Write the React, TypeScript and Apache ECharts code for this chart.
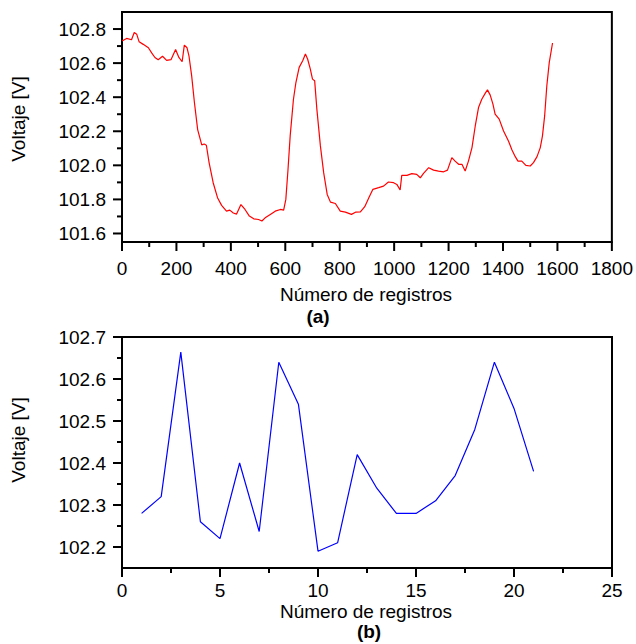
import React, { useEffect, useRef } from "react";
import * as echarts from "echarts";

// ---- Panel (a) data ----
const topX = [0, 17, 35, 45, 54, 63, 78, 97, 109, 121, 133, 149, 164, 180, 197, 209, 221, 229, 239, 246, 256, 266, 278, 293, 302, 310, 320, 335, 351, 366, 384, 396, 409, 421, 437, 452, 468, 484, 502, 514, 526, 545, 563, 582, 594, 602, 610, 618, 630, 639, 651, 664, 674, 682, 692, 700, 708, 716, 729, 741, 754, 766, 784, 802, 821, 843, 858, 876, 892, 907, 922, 943, 961, 979, 998, 1010, 1022, 1028, 1047, 1065, 1083, 1096, 1108, 1127, 1145, 1163, 1182, 1196, 1212, 1224, 1237, 1249, 1261, 1273, 1286, 1298, 1310, 1322, 1335, 1343, 1353, 1363, 1371, 1386, 1402, 1420, 1433, 1445, 1455, 1469, 1484, 1500, 1512, 1525, 1537, 1545, 1553, 1561, 1570, 1582];
const topY = [102.73, 102.745, 102.737, 102.78, 102.77, 102.725, 102.71, 102.69, 102.66, 102.633, 102.62, 102.64, 102.616, 102.62, 102.68, 102.633, 102.608, 102.706, 102.69, 102.643, 102.525, 102.37, 102.21, 102.12, 102.125, 102.118, 102.016, 101.898, 101.81, 101.765, 101.731, 101.737, 101.72, 101.714, 101.77, 101.741, 101.702, 101.686, 101.682, 101.673, 101.692, 101.712, 101.731, 101.741, 101.737, 101.8, 101.976, 102.173, 102.388, 102.486, 102.575, 102.614, 102.653, 102.624, 102.565, 102.506, 102.496, 102.33, 102.114, 101.957, 101.829, 101.784, 101.776, 101.731, 101.725, 101.712, 101.725, 101.727, 101.757, 101.81, 101.859, 101.869, 101.878, 101.902, 101.898, 101.888, 101.855, 101.941, 101.941, 101.951, 101.947, 101.927, 101.953, 101.986, 101.972, 101.966, 101.962, 101.972, 102.045, 102.025, 102.006, 102.006, 101.967, 102.025, 102.104, 102.231, 102.339, 102.388, 102.424, 102.443, 102.412, 102.359, 102.3, 102.271, 102.202, 102.143, 102.09, 102.051, 102.025, 102.025, 102.0, 101.996, 102.016, 102.051, 102.104, 102.173, 102.29, 102.467, 102.604, 102.718];
const topXMajor = [0, 200, 400, 600, 800, 1000, 1200, 1400, 1600, 1800];
const topXMinor = [100, 300, 500, 700, 900, 1100, 1300, 1500, 1700];
const topYMajor = [101.6, 101.8, 102.0, 102.2, 102.4, 102.6, 102.8];
const topYMinor = [101.7, 101.9, 102.1, 102.3, 102.5, 102.7];

// ---- Panel (b) data ----
const bottomX = [1, 2, 3, 4, 5, 6, 7, 8, 9, 10, 11, 12, 13, 14, 15, 16, 17, 18, 19, 20, 21];
const bottomY = [102.28, 102.32, 102.664, 102.26, 102.22, 102.4, 102.237, 102.64, 102.54, 102.19, 102.21, 102.42, 102.34, 102.28, 102.28, 102.31, 102.37, 102.48, 102.64, 102.53, 102.38];
const bottomXMajor = [0, 5, 10, 15, 20, 25];
const bottomXMinor = [2.5, 7.5, 12.5, 17.5, 22.5];
const bottomYMajor = [102.2, 102.3, 102.4, 102.5, 102.6, 102.7];
const bottomYMinor = [102.25, 102.35, 102.45, 102.55, 102.65];

const xName = "Número de registros";
const yName = "Voltaje [V]";

const FONT = "'Liberation Sans', Arial, sans-serif";
const BLACK = "#000";
const MAJOR_LEN = 9;
const MINOR_LEN = 5;
const TICK_W = 2;
const AXIS_W = 2;

function xAxisCfg(grid: number, min: number, max: number, labels: number[], margin: number) {
  return {
    gridIndex: grid,
    type: "value",
    position: "bottom",
    min,
    max,
    axisLine: { show: true, onZero: false, lineStyle: { color: BLACK, width: AXIS_W } },
    axisTick: { show: false },
    axisLabel: { color: BLACK, fontSize: 19, fontFamily: FONT, margin, customValues: labels, formatter: (v: number) => String(v) },
    splitLine: { show: false },
  };
}

function yAxisCfg(grid: number, min: number, max: number, labels: number[]) {
  return {
    gridIndex: grid,
    type: "value",
    position: "left",
    min,
    max,
    axisLine: { show: true, onZero: false, lineStyle: { color: BLACK, width: AXIS_W } },
    axisTick: { show: false },
    axisLabel: { color: BLACK, fontSize: 19, fontFamily: FONT, margin: 16, customValues: labels, formatter: (v: number) => v.toFixed(1) },
    splitLine: { show: false },
  };
}

// tick marks drawn through the axes' own scales (api.coord)
function xTickSeries(axisIdx: number, yMin: number, vals: number[], len: number) {
  return {
    type: "custom",
    coordinateSystem: "cartesian2d",
    xAxisIndex: axisIdx,
    yAxisIndex: axisIdx,
    clip: false,
    silent: true,
    z: 10,
    encode: { x: 0, y: 1 },
    data: vals.map((v) => [v, yMin]),
    renderItem: (_p: any, api: any) => {
      const pt = api.coord([api.value(0), api.value(1)]);
      return {
        type: "line",
        shape: { x1: pt[0], y1: pt[1], x2: pt[0], y2: pt[1] + len },
        style: { stroke: BLACK, lineWidth: TICK_W, fill: "none" },
      };
    },
  };
}

function yTickSeries(axisIdx: number, xMin: number, vals: number[], len: number) {
  return {
    type: "custom",
    coordinateSystem: "cartesian2d",
    xAxisIndex: axisIdx,
    yAxisIndex: axisIdx,
    clip: false,
    silent: true,
    z: 10,
    encode: { x: 0, y: 1 },
    data: vals.map((v) => [xMin, v]),
    renderItem: (_p: any, api: any) => {
      const pt = api.coord([api.value(0), api.value(1)]);
      return {
        type: "line",
        shape: { x1: pt[0] - len, y1: pt[1], x2: pt[0], y2: pt[1] },
        style: { stroke: BLACK, lineWidth: TICK_W, fill: "none" },
      };
    },
  };
}

export default function App() {
  const ref = useRef<HTMLDivElement>(null);
  useEffect(() => {
    if (!ref.current) return;
    const chart = echarts.init(ref.current, undefined, { renderer: "svg" });
    const textStyle = { fontSize: 19, lineHeight: 15, fontFamily: FONT, fill: BLACK };
    chart.setOption({
      animation: false,
      backgroundColor: "#fff",
      grid: [
        { left: 122, top: 12, width: 490, height: 230, show: true, borderColor: BLACK, borderWidth: AXIS_W, backgroundColor: "transparent" },
        { left: 122, top: 337, width: 490, height: 231, show: true, borderColor: BLACK, borderWidth: AXIS_W, backgroundColor: "transparent" },
      ],
      xAxis: [xAxisCfg(0, 0, 1800, topXMajor, 17), xAxisCfg(1, 0, 25, bottomXMajor, 13)],
      yAxis: [yAxisCfg(0, 101.55, 102.9, topYMajor), yAxisCfg(1, 102.15, 102.7, bottomYMajor)],
      series: [
        { type: "line", xAxisIndex: 0, yAxisIndex: 0, data: topX.map((x, i) => [x, topY[i]]), showSymbol: false, symbol: "none", lineStyle: { color: "#ff0000", width: 1.2 } },
        { type: "line", xAxisIndex: 1, yAxisIndex: 1, data: bottomX.map((x, i) => [x, bottomY[i]]), showSymbol: false, symbol: "none", lineStyle: { color: "#0000ff", width: 1.2 } },
        xTickSeries(0, 101.55, topXMajor, MAJOR_LEN),
        xTickSeries(0, 101.55, topXMinor, MINOR_LEN),
        yTickSeries(0, 0, topYMajor, MAJOR_LEN),
        yTickSeries(0, 0, topYMinor, MINOR_LEN),
        xTickSeries(1, 102.15, bottomXMajor, MAJOR_LEN),
        xTickSeries(1, 102.15, bottomXMinor, MINOR_LEN),
        yTickSeries(1, 0, bottomYMajor, MAJOR_LEN),
        yTickSeries(1, 0, bottomYMinor, MINOR_LEN),
      ],
      graphic: [
        { type: "text", x: 366, y: 294, style: { ...textStyle, text: xName, align: "center", verticalAlign: "middle" } },
        { type: "text", x: 318, y: 316, style: { ...textStyle, fontWeight: "bold", text: "(a)", align: "center", verticalAlign: "middle" } },
        { type: "text", x: 366, y: 611, style: { ...textStyle, text: xName, align: "center", verticalAlign: "middle" } },
        { type: "text", x: 369, y: 631, style: { ...textStyle, fontWeight: "bold", text: "(b)", align: "center", verticalAlign: "middle" } },
        { type: "text", x: 18, y: 119, rotation: Math.PI / 2, style: { ...textStyle, text: yName, align: "center", verticalAlign: "middle" } },
        { type: "text", x: 18, y: 440, rotation: Math.PI / 2, style: { ...textStyle, text: yName, align: "center", verticalAlign: "middle" } },
      ],
    });
    return () => chart.dispose();
  }, []);
  return <div ref={ref} style={{ position: "fixed", left: 0, top: 0, width: 636, height: 644 }} />;
}
